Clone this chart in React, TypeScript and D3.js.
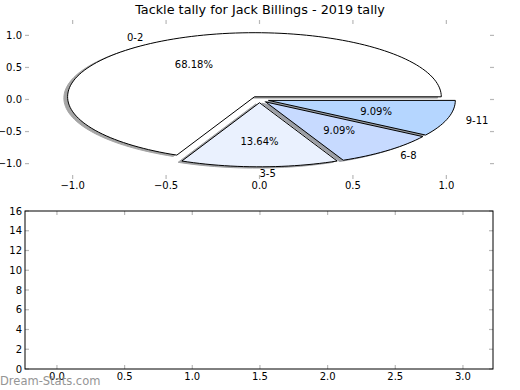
import React from 'react';
import * as d3 from 'd3';

// tackle tally buckets
const labels = ['0-2', '3-5', '6-8', '9-11'];
const tallies = [15, 3, 2, 2];
const colors = ['#ffffff', '#eaf1fe', '#c7daff', '#b5d6ff'];
const explode = [0.05, 0.05, 0.05, 0.05];

const pieTicks = [-1.0, -0.5, 0.0, 0.5, 1.0];
const barXTicks = [0, 0.5, 1, 1.5, 2, 2.5, 3];
const barYTicks = [0, 2, 4, 6, 8, 10, 12, 14, 16];

const W = 520;
const H = 390;
const FONT = 'DejaVu Sans, sans-serif';
const TICK = '#b8b8b8';

const top = { left: 25, right: 494, top: 20, bottom: 179 };
const bot = { left: 25, right: 493, top: 211, bottom: 369 };

export default function App() {
  const px = d3.scaleLinear().domain([-1.255, 1.255]).range([top.left, top.right]);
  const py = d3.scaleLinear().domain([-1.24, 1.24]).range([top.bottom, top.top]);
  const bx = d3.scaleLinear().domain([-0.236, 3.222]).range([bot.left, bot.right]);
  const by = d3.scaleLinear().domain([0, 16]).range([bot.bottom, bot.top]);

  const total = d3.sum(tallies);
  const arcs = d3.pie<number>().sort(null).startAngle(0).endAngle(2 * Math.PI)(tallies);

  const line = d3
    .line<[number, number]>()
    .x(d => px(d[0]))
    .y(d => py(d[1]));

  const wedgePath = (a0: number, a1: number, cx: number, cy: number) => {
    const n = Math.max(8, Math.ceil(((a1 - a0) / (2 * Math.PI)) * 180));
    const pts: [number, number][] = [[cx, cy]];
    d3.range(n + 1).forEach(i => {
      const t = a0 + ((a1 - a0) * i) / n;
      pts.push([cx + Math.cos(t), cy + Math.sin(t)]);
    });
    return line(pts) + 'Z';
  };

  const wedges = arcs.map((a, i) => {
    const mid = (a.startAngle + a.endAngle) / 2;
    const cx = explode[i] * Math.cos(mid);
    const cy = explode[i] * Math.sin(mid);
    return { a, i, mid, cx, cy };
  });

  const shade = (c: string) => {
    const r = d3.rgb(c);
    return d3.rgb(r.r * 0.3, r.g * 0.3, r.b * 0.3).toString();
  };

  return (
    <svg width={W} height={H} style={{ position: 'absolute', left: 0, top: 0, background: '#fff' }}>
      <text x={W / 2} y={14} textAnchor="middle" fontFamily={FONT} fontSize={12.8} fill="#000">
        Tackle tally for Jack Billings - 2019 tally
      </text>

      {/* pie axes ticks, no frame */}
      <g stroke={TICK} strokeWidth={1.2}>
        {pieTicks.map(t => (
          <g key={'pt' + t}>
            <line x1={px(t)} x2={px(t)} y1={top.top} y2={top.top + 4} />
            <line x1={px(t)} x2={px(t)} y1={top.bottom} y2={top.bottom - 4} />
            <line x1={top.left} x2={top.left + 4} y1={py(t)} y2={py(t)} />
            <line x1={top.right} x2={top.right - 4} y1={py(t)} y2={py(t)} />
          </g>
        ))}
      </g>
      <g fontFamily={FONT} fontSize={10} fill="#000">
        {pieTicks.map(t => (
          <text key={'px' + t} x={px(t)} y={top.bottom + 10} textAnchor="middle">
            {d3.format('.1f')(t).replace('-', '\u2212')}
          </text>
        ))}
        {pieTicks.map(t => (
          <text key={'py' + t} x={top.left - 3} y={py(t)} textAnchor="end" dominantBaseline="central">
            {d3.format('.1f')(t).replace('-', '\u2212')}
          </text>
        ))}
      </g>

      {/* shadows */}
      {wedges.map(w => (
        <path
          key={'s' + w.i}
          d={wedgePath(w.a.startAngle, w.a.endAngle, w.cx - 0.02, w.cy - 0.02)}
          fill={shade(colors[w.i])}
          stroke={shade(colors[w.i])}
          strokeWidth={1}
          opacity={0.5}
        />
      ))}
      {wedges.map(w => (
        <path
          key={'w' + w.i}
          d={wedgePath(w.a.startAngle, w.a.endAngle, w.cx, w.cy)}
          fill={colors[w.i]}
          stroke="#000"
          strokeWidth={1}
          strokeLinejoin="round"
        />
      ))}
      <g fontFamily={FONT} fontSize={10} fill="#000">
        {wedges.map(w => {
          const xt = w.cx + 1.1 * Math.cos(w.mid);
          const yt = w.cy + 1.1 * Math.sin(w.mid);
          return (
            <text
              key={'l' + w.i}
              x={px(xt)}
              y={py(yt)}
              textAnchor={xt >= -1e-9 ? 'start' : 'end'}
              dominantBaseline="central"
            >
              {labels[w.i]}
            </text>
          );
        })}
        {wedges.map(w => (
          <text
            key={'p' + w.i}
            x={px(w.cx + 0.6 * Math.cos(w.mid))}
            y={py(w.cy + 0.6 * Math.sin(w.mid))}
            textAnchor="middle"
            dominantBaseline="central"
          >
            {d3.format('.2f')((tallies[w.i] / total) * 100) + '%'}
          </text>
        ))}
      </g>

      {/* empty lower axes */}
      <g stroke={TICK} strokeWidth={1.2}>
        {barXTicks.map(t => (
          <g key={'bx' + t}>
            <line x1={bx(t)} x2={bx(t)} y1={bot.top} y2={bot.top + 4} />
            <line x1={bx(t)} x2={bx(t)} y1={bot.bottom} y2={bot.bottom - 4} />
          </g>
        ))}
        {barYTicks.map(t => (
          <g key={'by' + t}>
            <line x1={bot.left} x2={bot.left + 4} y1={by(t)} y2={by(t)} />
            <line x1={bot.right} x2={bot.right - 4} y1={by(t)} y2={by(t)} />
          </g>
        ))}
      </g>
      <rect
        x={bot.left}
        y={bot.top}
        width={bot.right - bot.left}
        height={bot.bottom - bot.top}
        fill="none"
        stroke="#000"
        strokeWidth={1}
      />
      <g fontFamily={FONT} fontSize={10} fill="#000">
        {barXTicks.map(t => (
          <text key={'bxl' + t} x={bx(t)} y={bot.bottom + 11} textAnchor="middle">
            {d3.format('.1f')(t)}
          </text>
        ))}
        {barYTicks.map(t => (
          <text key={'byl' + t} x={bot.left - 3} y={by(t)} textAnchor="end" dominantBaseline="central">
            {t}
          </text>
        ))}
      </g>

      <text x={0} y={385} fontFamily={FONT} fontSize={11.5} fill="#8a8a8a" opacity={0.9}>
        Dream-Stats.com
      </text>
    </svg>
  );
}
